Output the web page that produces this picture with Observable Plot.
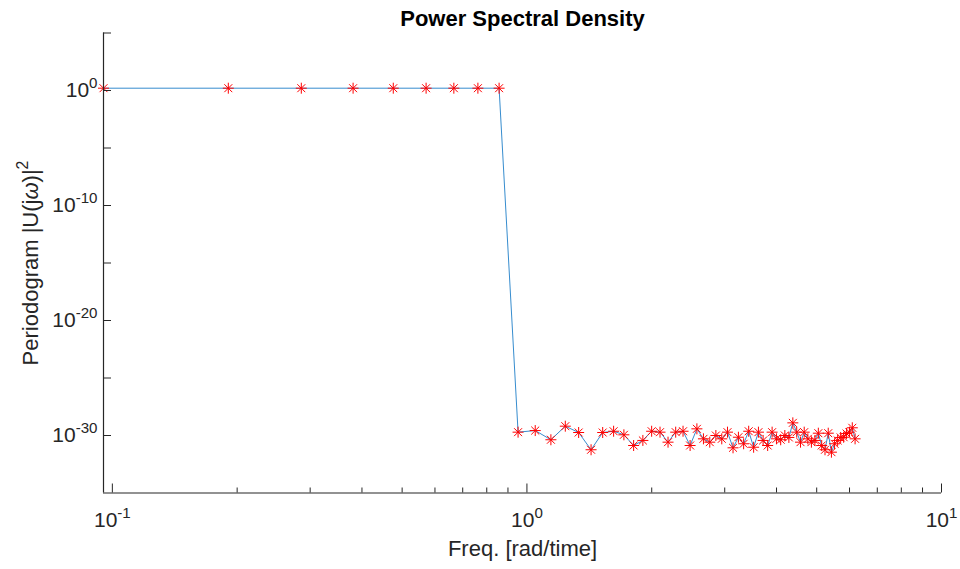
<!DOCTYPE html>
<html><head><meta charset="utf-8">
<script src="https://cdn.jsdelivr.net/npm/d3@7"></script>
<script src="https://cdn.jsdelivr.net/npm/@observablehq/plot@0.6"></script>
<style>body{margin:0;background:#fff;} svg{display:block}</style>
</head><body><div id="chart"></div>
<script>
// frequency bins (rad/time)
const freq = [0.0952, 0.1904, 0.2856, 0.3808, 0.4760, 0.5712, 0.6664, 0.7616, 0.8568,
  0.9520, 1.0472, 1.1424, 1.2376, 1.3328, 1.4280, 1.5232, 1.6184, 1.7136, 1.8088,
  1.9040, 1.9992, 2.0944, 2.1896, 2.2848, 2.3800, 2.4752, 2.5704, 2.6656, 2.7608,
  2.8560, 2.9512, 3.0464, 3.1416, 3.2368, 3.3320, 3.4272, 3.5224, 3.6176, 3.7128,
  3.8080, 3.9032, 3.9984, 4.0936, 4.1888, 4.2840, 4.3792, 4.4744, 4.5696, 4.6648,
  4.7600, 4.8552, 4.9504, 5.0456, 5.1408, 5.2360, 5.3312, 5.4264, 5.5216, 5.6168,
  5.7120, 5.8072, 5.9024, 5.9976, 6.0928, 6.1880];
// periodogram values, read as log10 exponents
const psdLog10 = [0.2, 0.2, 0.2, 0.2, 0.2, 0.2, 0.2, 0.2, 0.2,
  -29.71, -29.57, -30.37, -29.19, -29.74, -31.24, -29.74, -29.63, -29.94, -30.87,
  -30.43, -29.63, -29.71, -30.58, -29.71, -29.63, -30.87, -29.42, -30.29, -30.58,
  -30.00, -30.29, -29.71, -31.07, -30.15, -30.72, -29.63, -31.02, -29.71, -30.43,
  -30.87, -29.71, -30.29, -30.37, -30.00, -30.17, -28.90, -29.71, -30.58, -29.71,
  -30.29, -30.58, -30.43, -29.80, -30.87, -31.24, -29.80, -31.45, -30.72, -30.43,
  -30.17, -30.15, -29.83, -29.71, -29.33, -30.29];

const xDomain = [0.0952, 10];
const yDomain = [1e-35, 1e5];
const xMajorTicks = [0.1, 1, 10];
const xMinorTicks = [0.2, 0.3, 0.4, 0.5, 0.6, 0.7, 0.8, 0.9, 2, 3, 4, 5, 6, 7, 8, 9];
const yLabelTicks = [1e-30, 1e-20, 1e-10, 1e0];
const yAllTicks = [1e-30, 1e-25, 1e-20, 1e-15, 1e-10, 1e-5, 1e0, 1e5];
const titleText = "Power Spectral Density";
const xLabelText = "Freq. [rad/time]";
const yLabelText = "Periodogram |U(jω)|²";

const rows = freq.map((f, i) => ({f, p: Math.pow(10, psdLog10[i])}));
const axisColor = "#262626";
const expFormat = d => "10^" + Math.round(Math.log10(d));

const asterisk8 = {
  draw(context, size) {
    const r = Math.sqrt(size / Math.PI);
    const d = r * 0.72;
    context.moveTo(0, -r); context.lineTo(0, r);
    context.moveTo(-r, 0); context.lineTo(r, 0);
    context.moveTo(-d, -d); context.lineTo(d, d);
    context.moveTo(-d, d); context.lineTo(d, -d);
  }
};

const chart = Plot.plot({
  width: 960, height: 569,
  marginLeft: 103, marginRight: 19, marginTop: 32.5, marginBottom: 76.5,
  style: {fontFamily: "'Liberation Sans', Arial, Helvetica, sans-serif", fontSize: "21px", color: axisColor, background: "#fff"},
  x: {type: "log", domain: xDomain},
  y: {type: "log", domain: yDomain},
  marks: [
    Plot.line(rows, {x: "f", y: "p", stroke: "#1f7fc8", strokeWidth: 0.9}),
    Plot.dot(rows, {x: "f", y: "p", symbol: asterisk8, r: 5.5, stroke: "#ff0000", fill: "none", strokeWidth: 1}),
    Plot.ruleX([xDomain[0]], {stroke: axisColor, strokeWidth: 1.2}),
    Plot.ruleY([yDomain[0]], {stroke: axisColor, strokeWidth: 1.2}),
    Plot.axisX(xMinorTicks, {tickSize: -5, tickFormat: () => "", label: null, stroke: axisColor}),
    Plot.axisX(xMajorTicks, {tickSize: -9, tickFormat: () => "", label: null, stroke: axisColor}),
    Plot.axisX(xMajorTicks, {tickSize: 0, tickPadding: 19, tickFormat: expFormat, label: null, fill: axisColor, fontSize: 21}),
    Plot.axisY(yAllTicks, {tickSize: -8, tickFormat: () => "", label: null, stroke: axisColor}),
    Plot.axisY(yLabelTicks, {tickSize: 0, tickPadding: 6, tickFormat: expFormat, label: null, fill: axisColor, fontSize: 21}),
    Plot.text([titleText], {text: d => d, frameAnchor: "top", dy: -14.5, lineAnchor: "middle", textAnchor: "middle", fontWeight: "bold", fontSize: 22, fill: "#000"}),
    Plot.text([xLabelText], {text: d => d, frameAnchor: "bottom", dy: 55.5, lineAnchor: "middle", textAnchor: "middle", fontSize: 22, fill: axisColor}),
    Plot.text([yLabelText], {text: d => d, frameAnchor: "left", dx: -73, rotate: -90, lineAnchor: "middle", textAnchor: "middle", fontSize: 22, fill: axisColor})
  ]
});

// typographic post-processing: superscripts & italic omega
d3.select(chart).selectAll("text").each(function() {
  const t = this.textContent;
  const m = /^10\^(-?\d+)$/.exec(t);
  const sel = d3.select(this);
  if (m) {
    sel.text(null);
    sel.append("tspan").text("10");
    sel.append("tspan").attr("font-size", "0.72em").attr("dy", "-0.62em").text(m[1]);
  } else if (t === yLabelText) {
    sel.text(null);
    sel.append("tspan").text("Periodogram |U(j");
    sel.append("tspan").attr("font-style", "italic").text("ω");
    sel.append("tspan").text(")|");
    sel.append("tspan").attr("font-size", "0.72em").attr("dy", "-0.62em").text("2");
  }
});

document.getElementById("chart").appendChild(chart);
</script>
</body></html>
